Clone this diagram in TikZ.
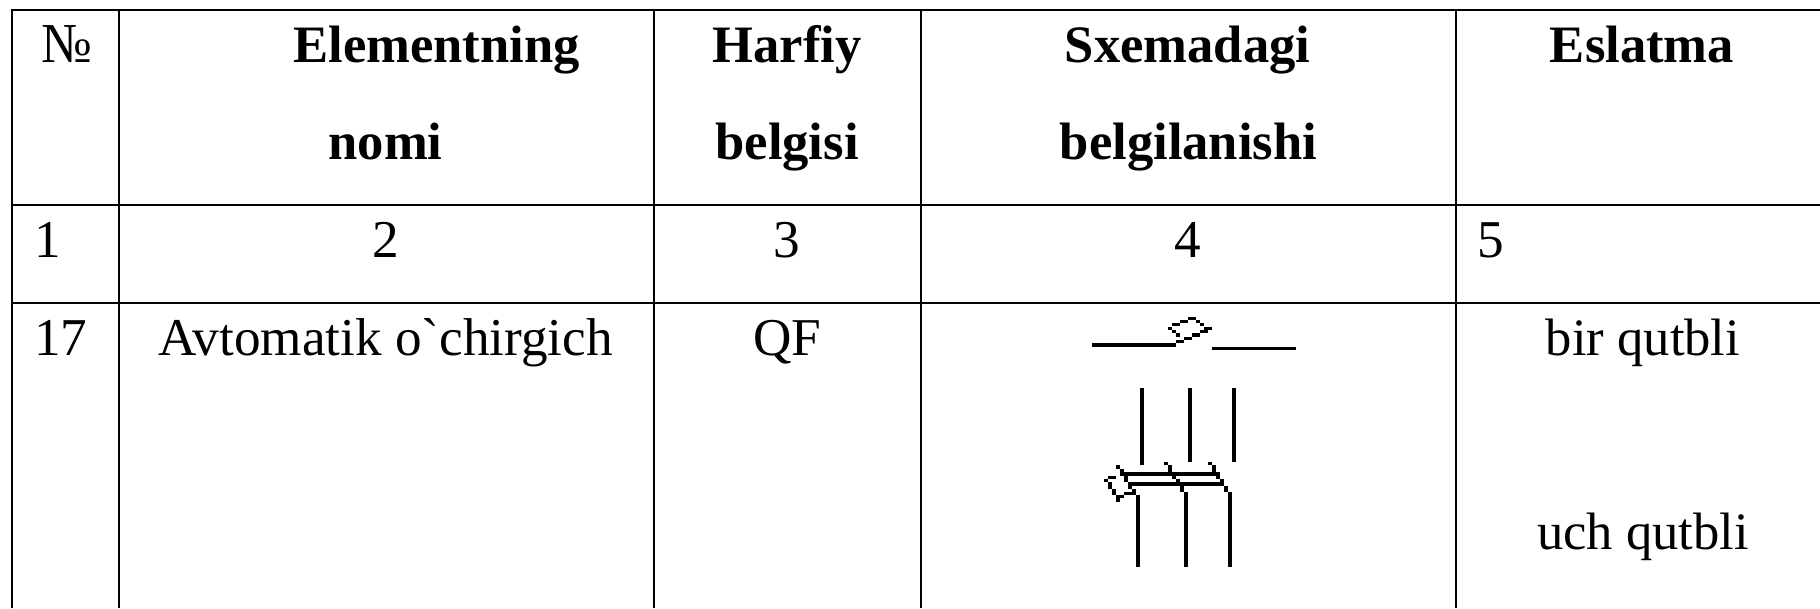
\documentclass[tikz,border=0pt]{standalone}
\usepackage{fontspec}
\setmainfont{Liberation Serif}
\newfontfamily\tnr{Liberation Serif}
\newcommand{\pxb}[4]{\fill[black] (#1,#3) rectangle (#2,#4);}
\tikzset{
  rule/.style={line width=2pt,black},
  cell/.style={anchor=base,inner sep=0pt,outer sep=0pt,font=\tnr\fontsize{53.2}{60}\selectfont},
  head/.style={cell,font=\tnr\bfseries\fontsize{52.6}{60}\selectfont},
  cellw/.style={cell,anchor=base west},
  note/.style={cell,font=\tnr\fontsize{52.6}{60}\selectfont}
}
\begin{document}
\begin{tikzpicture}[x=1pt,y=-1pt]
\useasboundingbox[fill=white] (0,0) rectangle (1820,608);
% table rules
\draw[rule] (12,608) -- (12,10) -- (1820,10);
\draw[rule] (12,204.5) -- (1820,204.5);
\draw[rule] (12,303) -- (1820,303);
\foreach \cx in {119,653.5,920.5,1455.5} \draw[rule] (\cx,10) -- (\cx,608);
% header
\node[cell,yscale=1.06] (hnum) at (66.5,62) {№};
\node[head] (h2a) at (436.5,62) {Elementning};
\node[head] (h2b) at (385.5,159) {nomi};
\node[head] (h3a) at (787,62) {Harfiy};
\node[head] (h3b) at (787,159) {belgisi};
\node[head] (h4a) at (1187.5,62) {Sxemadagi};
\node[head] (h4b) at (1188.5,159) {belgilanishi};
\node[head] (h5) at (1642,62) {Eslatma};
% numbers row
\node[cellw] (n1) at (34,257) {1};
\node[cell] (n2) at (385.5,257) {2};
\node[cell] (n3) at (787,257) {3};
\node[cell] (n4) at (1187.5,257) {4};
\node[cellw] (n5) at (1477,257) {5};
% data row
\node[cellw] (d1) at (34,355) {17};
\node[cell] (d2) at (385.5,355) {Avtomatik o`chirgich};
\node[cell] (d3) at (787,355) {QF};
\node[note] (d5a) at (1643,355) {bir qutbli};
\node[note] (d5b) at (1643,549) {uch qutbli};
% single-pole symbol
\begin{scope}[shift={(1160,310)},x=0.3333pt,y=-0.3333pt]
  \pxb{-204}{48}{100}{110}
  \pxb{156}{408}{110}{120}
  \pxb{84}{108}{21}{30}
  \pxb{60}{84}{30}{39}
  \pxb{108}{120}{30}{39}
  \pxb{36}{60}{39}{48}
  \pxb{120}{132}{39}{48}
  \pxb{24}{36}{51}{60}
  \pxb{132}{156}{51}{60}
  \pxb{36}{48}{60}{69}
  \pxb{120}{144}{60}{69}
  \pxb{48}{60}{69}{81}
  \pxb{96}{120}{69}{81}
  \pxb{72}{96}{81}{90}
  \pxb{48}{72}{90}{100}
\end{scope}
% three-pole symbol
\begin{scope}[shift={(1060,310)},x=0.3333pt,y=-0.3333pt]
  \pxb{240}{252}{235}{465}
  \pxb{384}{396}{235}{455}
  \pxb{516}{528}{235}{455}
  \pxb{228}{240}{558}{770}
  \pxb{372}{384}{546}{770}
  \pxb{504}{516}{546}{770}
\end{scope}
\begin{scope}[shift={(1100,455)},x=0.3333pt,y=-0.3333pt]
  \pxb{48}{60}{30}{42}
  \pxb{60}{72}{42}{51}
  \pxb{60}{348}{51}{63}
  \pxb{24}{48}{63}{72}
  \pxb{12}{24}{72}{81}
  \pxb{72}{84}{63}{81}
  \pxb{84}{372}{81}{93}
  \pxb{84}{96}{93}{101}
  \pxb{24}{36}{81}{101}
  \pxb{36}{48}{101}{120}
  \pxb{48}{60}{120}{140}
  \pxb{60}{72}{120}{130}
  \pxb{72}{108}{110}{120}
  \pxb{96}{108}{101}{112}
  \pxb{108}{120}{120}{150}
\end{scope}
\begin{scope}[shift={(1160,455)},x=0.3333pt,y=-0.3333pt]
  \pxb{12}{24}{21}{30}
  \pxb{144}{156}{21}{30}
  \pxb{24}{36}{30}{51}
  \pxb{156}{168}{30}{51}
  \pxb{168}{180}{51}{72}
  \pxb{36}{48}{63}{72}
  \pxb{48}{60}{72}{81}
  \pxb{180}{192}{72}{81}
  \pxb{60}{72}{93}{110}
  \pxb{192}{204}{93}{110}
\end{scope}
\end{tikzpicture}
\end{document}
